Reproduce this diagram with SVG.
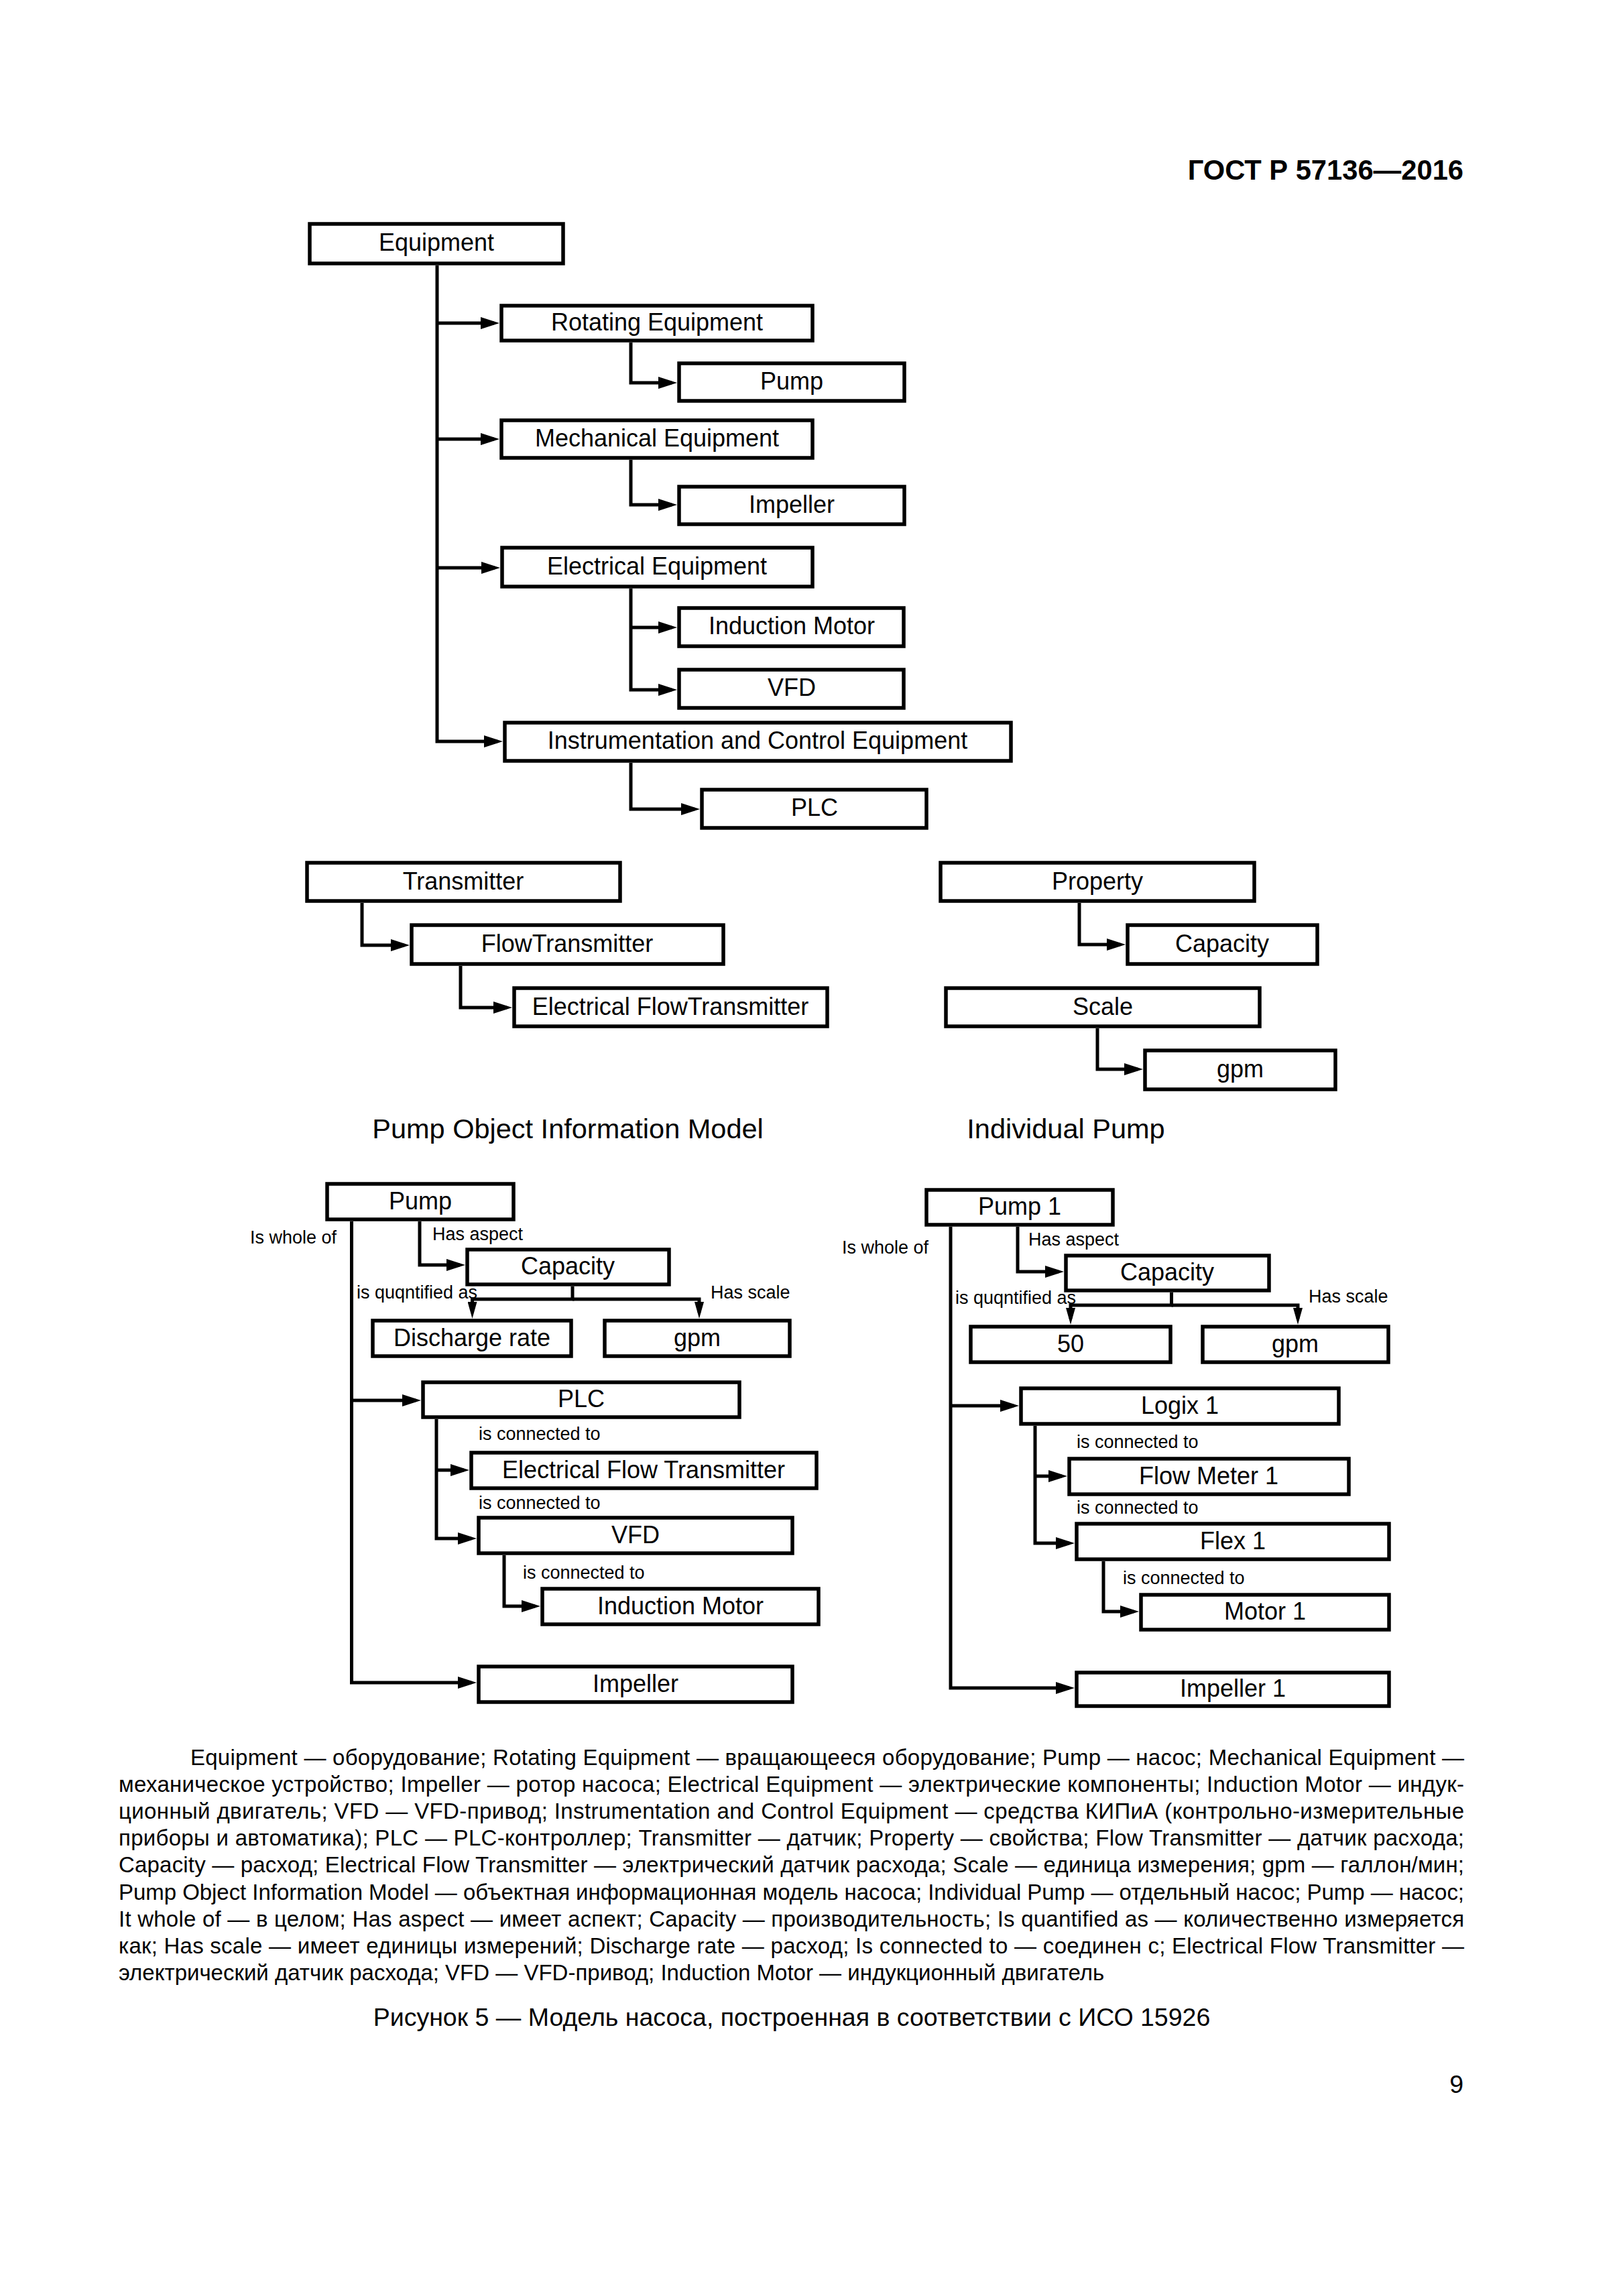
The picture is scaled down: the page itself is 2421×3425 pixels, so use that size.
<svg xmlns="http://www.w3.org/2000/svg" width="2421" height="3425" viewBox="0 0 2421 3425">
<style>
text { font-family: "Liberation Sans", Arial, sans-serif; fill: #000; }
.box { fill: #fff; stroke: #000; stroke-width: 5.5; }
.lbl { font-size: 36px; text-anchor: middle; }
.sm { font-size: 27px; }
.conn { fill: none; stroke: #000; stroke-width: 5; }
.title { font-size: 41.5px; text-anchor: middle; }
.leg { font-size: 33px; }
.cap { font-size: 37.5px; text-anchor: middle; }
.hdr { font-size: 41.7px; font-weight: bold; text-anchor: end; }
</style>
<defs>
<marker id="ah" markerUnits="userSpaceOnUse" markerWidth="28" markerHeight="18" refX="20" refY="9" orient="auto"><path d="M0,0 L28,9 L0,18 z" fill="#000"/></marker>
<marker id="ad" markerUnits="userSpaceOnUse" markerWidth="25" markerHeight="14" refX="16" refY="7" orient="auto"><path d="M0,0 L25,7 L0,14 z" fill="#000"/></marker>
</defs>
<rect width="2421" height="3425" fill="#fff"/>
<text class="hdr" x="2183" y="268">ГОСТ Р 57136—2016</text>

<g id="connectors" class="conn">
<path d="M652 396 V1106 H742" marker-end="url(#ah)"/>
<path d="M652 482 H737" marker-end="url(#ah)"/>
<path d="M652 655 H737" marker-end="url(#ah)"/>
<path d="M652 847 H738" marker-end="url(#ah)"/>
<path d="M941 511 V571 H1002" marker-end="url(#ah)"/>
<path d="M941 686 V753 H1002" marker-end="url(#ah)"/>
<path d="M941 878 V1029 H1002" marker-end="url(#ah)"/>
<path d="M941 936 H1002" marker-end="url(#ah)"/>
<path d="M941 1138 V1207 H1036" marker-end="url(#ah)"/>
<path d="M540 1347 V1410 H603" marker-end="url(#ah)"/>
<path d="M687 1441 V1503 H756" marker-end="url(#ah)"/>
<path d="M1610 1347 V1409 H1671" marker-end="url(#ah)"/>
<path d="M1637 1534 V1595 H1697" marker-end="url(#ah)"/>
<path d="M524.5 1822 V2510 H703" marker-end="url(#ah)"/>
<path d="M524.5 2089 H620" marker-end="url(#ah)"/>
<path d="M626 1822 V1887 H686" marker-end="url(#ah)"/>
<path d="M854 1919 V1938 H704.5 V1958" marker-end="url(#ad)"/>
<path d="M854 1938 H1043 V1958" marker-end="url(#ad)"/>
<path d="M651 2117 V2295 H703" marker-end="url(#ah)"/>
<path d="M651 2193 H692" marker-end="url(#ah)"/>
<path d="M752 2320 V2396 H798" marker-end="url(#ah)"/>
<path d="M1418 1830 V2518 H1595" marker-end="url(#ah)"/>
<path d="M1418 2097 H1512" marker-end="url(#ah)"/>
<path d="M1518 1830 V1897 H1579" marker-end="url(#ah)"/>
<path d="M1747.5 1928 V1947 H1597 V1967" marker-end="url(#ad)"/>
<path d="M1747.5 1947 H1936 V1967" marker-end="url(#ad)"/>
<path d="M1544 2127 V2302 H1595" marker-end="url(#ah)"/>
<path d="M1544 2202 H1584" marker-end="url(#ah)"/>
<path d="M1646 2329 V2404 H1691" marker-end="url(#ah)"/>
</g>

<g id="n-equipment"><rect class="box" x="462" y="334" width="378" height="59"/><text class="lbl" x="651" y="374">Equipment</text></g>
<g id="n-rotating"><rect class="box" x="748" y="456" width="464" height="52"/><text class="lbl" x="980" y="493">Rotating Equipment</text></g>
<g id="n-pump"><rect class="box" x="1013" y="542" width="336" height="56"/><text class="lbl" x="1181" y="581">Pump</text></g>
<g id="n-mechanical"><rect class="box" x="748" y="627" width="464" height="56"/><text class="lbl" x="980" y="666">Mechanical Equipment</text></g>
<g id="n-impeller"><rect class="box" x="1013" y="726" width="336" height="56"/><text class="lbl" x="1181" y="765">Impeller</text></g>
<g id="n-electrical"><rect class="box" x="749" y="817" width="463" height="58"/><text class="lbl" x="980" y="857">Electrical Equipment</text></g>
<g id="n-induction"><rect class="box" x="1013" y="907" width="335" height="57"/><text class="lbl" x="1181" y="946">Induction Motor</text></g>
<g id="n-vfd"><rect class="box" x="1013" y="999" width="335" height="57"/><text class="lbl" x="1181" y="1038">VFD</text></g>
<g id="n-instr"><rect class="box" x="753" y="1078" width="755" height="57"/><text class="lbl" x="1130" y="1117">Instrumentation and Control Equipment</text></g>
<g id="n-plc"><rect class="box" x="1047" y="1178" width="335" height="57"/><text class="lbl" x="1215" y="1217">PLC</text></g>

<g id="n-transmitter"><rect class="box" x="458" y="1287" width="467" height="57"/><text class="lbl" x="691" y="1327">Transmitter</text></g>
<g id="n-flowtransmitter"><rect class="box" x="614" y="1380" width="465" height="58"/><text class="lbl" x="846" y="1420">FlowTransmitter</text></g>
<g id="n-elflowtransmitter"><rect class="box" x="767" y="1474" width="467" height="57"/><text class="lbl" x="1000" y="1514">Electrical FlowTransmitter</text></g>
<g id="n-property"><rect class="box" x="1403" y="1287" width="468" height="57"/><text class="lbl" x="1637" y="1327">Property</text></g>
<g id="n-capacity-top"><rect class="box" x="1682" y="1380" width="283" height="58"/><text class="lbl" x="1823" y="1420">Capacity</text></g>
<g id="n-scale"><rect class="box" x="1411" y="1474" width="468" height="57"/><text class="lbl" x="1645" y="1514">Scale</text></g>
<g id="n-gpm-top"><rect class="box" x="1708" y="1567" width="284" height="58"/><text class="lbl" x="1850" y="1607">gpm</text></g>

<text class="title" x="847" y="1698">Pump Object Information Model</text>
<text class="title" x="1590" y="1698">Individual Pump</text>

<g id="n-pomodel-pump"><rect class="box" x="488" y="1766" width="278" height="53"/><text class="lbl" x="627" y="1804">Pump</text></g>
<g id="n-pomodel-capacity"><rect class="box" x="697" y="1864" width="301" height="52"/><text class="lbl" x="847" y="1901">Capacity</text></g>
<g id="n-discharge"><rect class="box" x="556" y="1970" width="296" height="53"/><text class="lbl" x="704" y="2008">Discharge rate</text></g>
<g id="n-pomodel-gpm"><rect class="box" x="902" y="1970" width="276" height="53"/><text class="lbl" x="1040" y="2008">gpm</text></g>
<g id="n-pomodel-plc"><rect class="box" x="631" y="2062" width="472" height="52"/><text class="lbl" x="867" y="2099">PLC</text></g>
<g id="n-pomodel-eft"><rect class="box" x="703" y="2167" width="515" height="53"/><text class="lbl" x="960" y="2205">Electrical Flow Transmitter</text></g>
<g id="n-pomodel-vfd"><rect class="box" x="714" y="2264" width="468" height="53"/><text class="lbl" x="948" y="2302">VFD</text></g>
<g id="n-pomodel-motor"><rect class="box" x="809" y="2370" width="412" height="53"/><text class="lbl" x="1015" y="2408">Induction Motor</text></g>
<g id="n-pomodel-impeller"><rect class="box" x="714" y="2486" width="468" height="53"/><text class="lbl" x="948" y="2524">Impeller</text></g>

<g id="labels-left">
<text class="sm" x="373" y="1855">Is whole of</text>
<text class="sm" x="645" y="1850">Has aspect</text>
<text class="sm" x="532" y="1937">is quqntified as</text>
<text class="sm" x="1060" y="1937">Has scale</text>
<text class="sm" x="714" y="2148">is connected to</text>
<text class="sm" x="714" y="2251">is connected to</text>
<text class="sm" x="780" y="2355">is connected to</text>
</g>

<g id="n-pump1"><rect class="box" x="1382" y="1775" width="278" height="52"/><text class="lbl" x="1521" y="1812">Pump 1</text></g>
<g id="n-ind-capacity"><rect class="box" x="1590" y="1873" width="303" height="52"/><text class="lbl" x="1741" y="1910">Capacity</text></g>
<g id="n-50"><rect class="box" x="1448" y="1979" width="298" height="53"/><text class="lbl" x="1597" y="2017">50</text></g>
<g id="n-ind-gpm"><rect class="box" x="1794" y="1979" width="277" height="53"/><text class="lbl" x="1932" y="2017">gpm</text></g>
<g id="n-logix1"><rect class="box" x="1523" y="2071" width="474" height="53"/><text class="lbl" x="1760" y="2109">Logix 1</text></g>
<g id="n-flowmeter1"><rect class="box" x="1595" y="2176" width="417" height="53"/><text class="lbl" x="1803" y="2214">Flow Meter 1</text></g>
<g id="n-flex1"><rect class="box" x="1606" y="2273" width="466" height="53"/><text class="lbl" x="1839" y="2311">Flex 1</text></g>
<g id="n-motor1"><rect class="box" x="1702" y="2379" width="370" height="52"/><text class="lbl" x="1887" y="2416">Motor 1</text></g>
<g id="n-impeller1"><rect class="box" x="1606" y="2495" width="466" height="50"/><text class="lbl" x="1839" y="2531">Impeller 1</text></g>

<g id="labels-right">
<text class="sm" x="1256" y="1870">Is whole of</text>
<text class="sm" x="1534" y="1858">Has aspect</text>
<text class="sm" x="1425" y="1945">is quqntified as</text>
<text class="sm" x="1952" y="1943">Has scale</text>
<text class="sm" x="1606" y="2160">is connected to</text>
<text class="sm" x="1606" y="2258">is connected to</text>
<text class="sm" x="1675" y="2363">is connected to</text>
</g>

<g id="legend">
<text class="leg" x="284" y="2633" textLength="1900" lengthAdjust="spacing">Equipment — оборудование; Rotating Equipment — вращающееся оборудование; Pump — насос; Mechanical Equipment —</text>
<text class="leg" x="177" y="2673" textLength="2007" lengthAdjust="spacing">механическое устройство; Impeller — ротор насоса; Electrical Equipment — электрические компоненты; Induction Motor — индук-</text>
<text class="leg" x="177" y="2713" textLength="2007" lengthAdjust="spacing">ционный двигатель; VFD — VFD-привод; Instrumentation and Control Equipment — средства КИПиА (контрольно-измерительные</text>
<text class="leg" x="177" y="2753" textLength="2007" lengthAdjust="spacing">приборы и автоматика); PLC — PLC-контроллер; Transmitter — датчик; Property — свойства; Flow Transmitter — датчик расхода;</text>
<text class="leg" x="177" y="2793" textLength="2007" lengthAdjust="spacing">Capacity — расход; Electrical Flow Transmitter — электрический датчик расхода; Scale — единица измерения; gpm — галлон/мин;</text>
<text class="leg" x="177" y="2834" textLength="2007" lengthAdjust="spacing">Pump Object Information Model — объектная информационная модель насоса; Individual Pump — отдельный насос; Pump — насос;</text>
<text class="leg" x="177" y="2874" textLength="2007" lengthAdjust="spacing">It whole of — в целом; Has aspect — имеет аспект; Capacity — производительность; Is quantified as — количественно измеряется</text>
<text class="leg" x="177" y="2914" textLength="2007" lengthAdjust="spacing">как; Has scale — имеет единицы измерений; Discharge rate — расход; Is connected to — соединен с; Electrical Flow Transmitter —</text>
<text class="leg" x="177" y="2954">электрический датчик расхода; VFD — VFD-привод; Induction Motor — индукционный двигатель</text>
</g>

<text class="cap" x="1181" y="3022">Рисунок 5 — Модель насоса, построенная в соответствии с ИСО 15926</text>
<text class="cap" x="2183" y="3122" style="text-anchor:end">9</text>
</svg>
